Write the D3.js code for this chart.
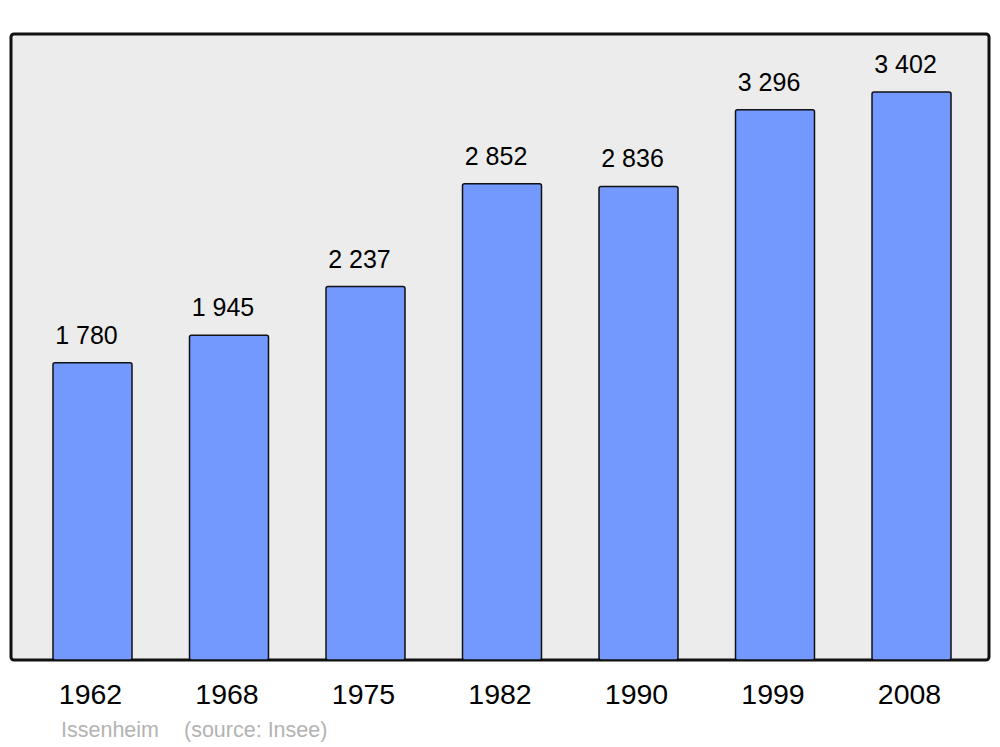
<!DOCTYPE html>
<html>
<head>
<meta charset="utf-8">
<script src="https://cdn.jsdelivr.net/npm/d3@7"></script>
<style>
html,body{margin:0;padding:0;background:#fff;}
svg{display:block;}
text{font-family:"Liberation Sans",Arial,sans-serif;}
</style>
</head>
<body>
<svg id="chart" width="1000" height="747"></svg>
<script>
const years = ["1962","1968","1975","1982","1990","1999","2008"];
const population = [1780,1945,2237,2852,2836,3296,3402];
const valueLabels = ["1 780","1 945","2 237","2 852","2 836","3 296","3 402"];
const townName = "Issenheim";
const sourceNote = "(source: Insee)";

const svg = d3.select("#chart");
const panel = {x0: 11, x1: 989, y0: 34, y1: 660};

svg.append("rect")
  .attr("x", panel.x0).attr("y", panel.y0)
  .attr("width", panel.x1 - panel.x0).attr("height", panel.y1 - panel.y0)
  .attr("rx", 3).attr("ry", 3)
  .attr("fill", "#ececec").attr("stroke", "#111").attr("stroke-width", 3);

const x = d3.scaleBand().domain(years).range([53, 952]).paddingInner(0.414).paddingOuter(0);
const y = d3.scaleLinear().domain([0, 3402]).range([panel.y1, 92]);

const g = svg.append("g");
g.selectAll("rect.bar").data(years).join("rect")
  .attr("class", "bar")
  .attr("x", d => x(d))
  .attr("y", (d, i) => y(population[i]))
  .attr("width", x.bandwidth() - 1)
  .attr("height", (d, i) => panel.y1 - y(population[i]))
  .attr("rx", 2).attr("ry", 2)
  .attr("fill", "#7399ff").attr("stroke", "#111").attr("stroke-width", 1.5);

g.selectAll("text.val").data(years).join("text")
  .attr("class", "val")
  .attr("x", d => x(d) + x.bandwidth() / 2 - 6.5)
  .attr("y", (d, i) => y(population[i]) - 19)
  .attr("text-anchor", "middle")
  .attr("font-size", 25)
  .attr("fill", "#000")
  .text((d, i) => valueLabels[i]);

const xAxis = d3.axisBottom(x).tickSize(0).tickPadding(0);
const ax = svg.append("g").attr("transform", `translate(-2.5,${panel.y1})`).call(xAxis);
ax.select(".domain").remove();
ax.selectAll("text")
  .attr("y", 44).attr("dy", null)
  .attr("font-size", 28.5).attr("fill", "#000")
  .attr("font-family", "'Liberation Sans',Arial,sans-serif");

svg.append("text").attr("x", 61).attr("y", 737)
  .attr("font-size", 21.5).attr("fill", "#b3b3b3").text(townName);
svg.append("text").attr("x", 184).attr("y", 737)
  .attr("font-size", 21.5).attr("fill", "#b3b3b3").text(sourceNote);
</script>
</body>
</html>
